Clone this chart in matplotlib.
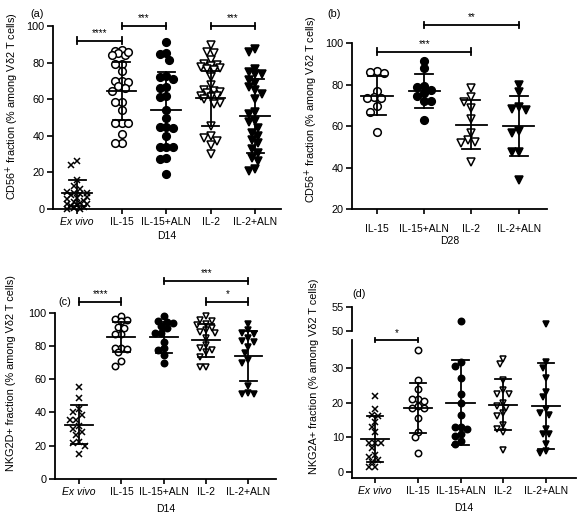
import matplotlib
matplotlib.use("Agg")
import matplotlib.pyplot as plt

plt.rcParams["font.family"] = ["Liberation Sans", "DejaVu Sans"]
plt.rcParams["font.size"] = 7.5

W, H = 578, 521

# group names
groups_d14 = ["Ex vivo", "IL-15", "IL-15+ALN", "IL-2", "IL-2+ALN"]
groups_d28 = ["IL-15", "IL-15+ALN", "IL-2", "IL-2+ALN"]

# (a) CD56+ fraction, D14
a_exvivo = [26, 24, 16, 12.5, 11, 9.5, 9, 8.5, 8, 7.5, 6.5, 6, 5.5, 4.5, 4, 3.5, 3, 2.5, 2, 1.5, 1, 0.5, 0, 0]
a_il15 = [87, 86.5, 85.5, 84, 84, 86, 79.5, 79.5, 75.5, 70, 70, 69.5, 67, 66, 64.5, 58.5, 58.5, 54, 47, 47, 47, 41, 36, 36]
a_il15aln = [91, 85, 84.5, 81.5, 72.5, 72, 71, 66.5, 66, 61.5, 61, 54, 49.5, 45, 45, 44.5, 40, 34, 34, 34, 28, 27.5, 19]
a_il2 = [89.5, 86, 85, 81.5, 79, 78.5, 78, 77.5, 77, 76.5, 76, 72, 68, 65, 64.5, 64, 63.5, 62, 61.5, 61, 60, 58, 57.5, 45.5, 40, 39, 37, 35, 30]
a_il2aln = [87.5, 86, 76.5, 75, 74, 73.5, 70.5, 69, 66.5, 65, 63, 60, 53, 52, 48, 47.5, 44.5, 41.5, 40, 37.5, 36, 33, 30.5, 28, 26, 22, 21]
a_mean = [8.9, 64.6, 54.3, 60.5, 51.0]
a_sd = [7.0, 15.8, 20.8, 15.0, 20.3]

# (b) CD56+ fraction, D28
b_il15 = [86.8, 85.8, 86.3, 77, 74, 73.5, 73.5, 69.5, 67, 57]
b_il15aln = [91.5, 88, 79.5, 79, 77.5, 76, 74.5, 72, 72, 63]
b_il2 = [78.3, 74.2, 71.5, 68.6, 63.5, 56.6, 53.3, 52.2, 51.7, 42.5]
b_il2aln = [80, 76.6, 69.4, 68.3, 67.8, 57.7, 56.5, 47.7, 47.7, 34]
b_mean = [74.7, 77.2, 60.7, 60.2]
b_sd = [9.4, 8.2, 11.8, 14.5]

# (c) NKG2D+ fraction, D14
c_exvivo = [55.5, 49, 42, 40.5, 38.5, 35.5, 35.5, 32, 30, 28.5, 26.5, 22.5, 21.5, 20, 15]
c_il15 = [98, 96.5, 95.5, 95, 91.5, 91, 87, 87, 79, 79, 78, 76.5, 71, 68]
c_il15aln = [98, 95, 94.5, 94, 92, 90.5, 88, 88, 82.5, 78.5, 77.5, 74.5, 69.5]
c_il2 = [98, 95.5, 95, 93.5, 92.5, 90.5, 89.5, 88.5, 88, 84.5, 80.5, 78.5, 77.5, 76.5, 73.5, 67.5, 67.5]
c_il2aln = [93.5, 89.5, 88, 87, 85, 83, 82.5, 79.5, 76, 71.5, 70, 56, 51.5, 51, 51]
c_mean = [32.5, 85.2, 85.2, 83.3, 73.9]
c_sd = [11.7, 9.0, 9.3, 10.0, 14.8]

# (d) NKG2A+ fraction, D14
d_exvivo = [22, 18, 16.5, 16, 14.5, 13, 11.5, 8.5, 8.5, 8.5, 7, 5, 4.5, 3.5, 3, 1.5, 1.5]
d_il15 = [35, 26.5, 24, 21, 21, 20.5, 19, 18.5, 18.5, 15.5, 11.5, 10, 5.5]
d_il15aln = [52, 31.5, 30.5, 27, 22.5, 20, 16.5, 13, 13, 12.5, 11, 10.5, 9, 8]
d_il2 = [32.5, 31, 26.5, 23.5, 22.5, 22.5, 20, 19, 18.5, 17, 16, 13.5, 12.5, 11.5, 6.5]
d_il2aln = [51.5, 31.5, 30, 27, 23, 21.5, 18, 17, 16.5, 12.5, 11, 11, 8, 6, 5.5]
d_mean = [9.5, 18.5, 20.0, 19.3, 19.1]
d_sd = [6.6, 7.2, 12.2, 7.3, 12.3]

# significance brackets: (from, to, height, stars)
a_sig = [(0, 1, 92, "****"), (1, 2, 100, "***"), (3, 4, 100, "***")]
b_sig = [(0, 2, 96, "***"), (1, 3, 109, "**")]
c_sig = [(0, 1, 106.6, "****"), (2, 4, 119, "***"), (3, 4, 106.6, "*")]
d_sig = [(0, 1, 37.9, "*")]

styles = {
    "Ex vivo": dict(marker="x", mfc="black", ms_scale=0.8),
    "IL-15": dict(marker="o", mfc="white", ms_scale=1.0),
    "IL-15+ALN": dict(marker="o", mfc="black", ms_scale=1.0),
    "IL-2": dict(marker="v", mfc="white", ms_scale=0.92),
    "IL-2+ALN": dict(marker="v", mfc="black", ms_scale=0.92),
}

fig = plt.figure(figsize=(W / 100, H / 100), dpi=100)


def px_axes(left, right, bottom, top):
    return fig.add_axes([left / W, 1 - bottom / H, (right - left) / W, (bottom - top) / H])


def swarm_x(ax, x0, vals, diam, max_off):
    # spread points sideways (in pixels), kept within +-max_off of the group centre
    p0 = ax.transData.transform((0, 0))
    p1 = ax.transData.transform((1, 1))
    sx, sy = p1[0] - p0[0], p1[1] - p0[1]
    step = diam / 2
    cands = [0.0]
    k = 1
    while k * step <= max_off + 1e-6:
        cands += [-k * step, k * step]
        k += 1
    order = sorted(range(len(vals)), key=lambda i: -vals[i])
    placed = []
    xs = [0] * len(vals)
    for i in order:
        y = vals[i] * sy
        best, best_d = 0.0, -1
        for off in cands:
            dmin = min([((off - ox) ** 2 + (y - oy) ** 2) ** 0.5 for ox, oy in placed] + [1e9])
            if dmin >= diam:
                best = off
                break
            if dmin > best_d:
                best, best_d = off, dmin
        placed.append((best, y))
        xs[i] = x0 + best / sx
    return xs


def dots(ax, x0, vals, name, ms, diam, max_off):
    st = styles[name]
    xs = swarm_x(ax, x0, vals, diam, max_off)
    ax.plot(xs, vals, ls="none", marker=st["marker"], ms=ms * st["ms_scale"],
            mfc=st["mfc"], mec="black", mew=1.1, clip_on=False, zorder=3)


def mean_sd(ax, x0, m, s, lw=1.3):
    ax.plot([x0 - 0.33, x0 + 0.33], [m, m], color="black", lw=lw, zorder=4, clip_on=False)
    ax.plot([x0, x0], [m - s, m + s], color="black", lw=lw, zorder=4, clip_on=False)
    for yy in (m - s, m + s):
        ax.plot([x0 - 0.19, x0 + 0.19], [yy, yy], color="black", lw=lw, zorder=4, clip_on=False)


def brackets(ax, sig, cap, gap):
    for g0, g1, h, stars in sig:
        ax.plot([g0, g1], [h, h], color="black", lw=1.3, clip_on=False)
        for g in (g0, g1):
            ax.plot([g, g], [h - cap, h + cap], color="black", lw=1.3, clip_on=False)
        ax.text((g0 + g1) / 2, h + gap, stars, ha="center", va="bottom", fontsize=7)


def style_axes(ax, labels, italic_first):
    for s in ("top", "right"):
        ax.spines[s].set_visible(False)
    for s in ("left", "bottom"):
        ax.spines[s].set_linewidth(1.3)
    ax.tick_params(axis="both", width=1.2, length=4, pad=2, labelsize=7.8)
    ax.tick_params(axis="x", length=3.5, labelsize=7.5)
    ax.set_xticks(range(len(labels)))
    ax.set_xticklabels(labels)
    if italic_first:
        ax.get_xticklabels()[0].set_fontstyle("italic")


def panel(ax, data, means, sds, names, ms, diam, max_off):
    for i, (vals, name) in enumerate(zip(data, names)):
        dots(ax, i, vals, name, ms, diam, max_off)
        mean_sd(ax, i, means[i], sds[i])


# ---- (a)
ax_a = px_axes(53, 281, 209, 26)
ax_a.set_xlim(-0.54, 4.58)
ax_a.set_ylim(0, 100)
ax_a.set_yticks([0, 20, 40, 60, 80, 100])
style_axes(ax_a, groups_d14, True)
panel(ax_a, [a_exvivo, a_il15, a_il15aln, a_il2, a_il2aln], a_mean, a_sd, groups_d14, 5.5, 6.5, 12)
brackets(ax_a, a_sig, 1.8, 1.5)
ax_a.set_xlabel("D14", labelpad=3)

# ---- (b)
ax_b = px_axes(352, 547, 209, 43.3)
ax_b.set_xlim(-0.53, 3.6)
ax_b.set_ylim(20, 100)
ax_b.set_yticks([20, 40, 60, 80, 100])
style_axes(ax_b, groups_d28, False)
ax_b.tick_params(axis="x", pad=7)
panel(ax_b, [b_il15, b_il15aln, b_il2, b_il2aln], b_mean, b_sd, groups_d28, 5.5, 7, 11)
brackets(ax_b, b_sig, 1.5, 1.3)
ax_b.set_xlabel("D28", labelpad=2)

# ---- (c)
ax_c = px_axes(55, 276, 479, 312.7)
ax_c.set_xlim(-0.57, 4.65)
ax_c.set_ylim(0, 100)
ax_c.set_yticks([0, 20, 40, 60, 80, 100])
style_axes(ax_c, groups_d14, True)
panel(ax_c, [c_exvivo, c_il15, c_il15aln, c_il2, c_il2aln], c_mean, c_sd, groups_d14, 4.6, 6, 10)
brackets(ax_c, c_sig, 2.0, 1.6)
ax_c.set_xlabel("D14", labelpad=5)

# ---- (d) broken y axis
ax_d = px_axes(352.3, 576, 478.3, 340)
ax_d.set_xlim(-0.53, 4.7)
ax_d.set_ylim(-1.7, 37.9)
ax_d.set_yticks([0, 10, 20, 30])
style_axes(ax_d, groups_d14, True)
ax_d.spines["left"].set_bounds(-1.7, 37.9)

ax_d2 = px_axes(352.3, 576, 331, 306.7)
ax_d2.set_xlim(-0.53, 4.7)
ax_d2.set_ylim(50, 55)
ax_d2.set_yticks([50, 55])
for s in ("top", "right", "bottom"):
    ax_d2.spines[s].set_visible(False)
ax_d2.spines["left"].set_linewidth(1.3)
ax_d2.tick_params(axis="y", width=1.2, length=4, pad=2, labelsize=7.8)
ax_d2.set_xticks([])
ax_d2.patch.set_visible(False)

d_data = [d_exvivo, d_il15, d_il15aln, d_il2, d_il2aln]
for i, (vals, name) in enumerate(zip(d_data, groups_d14)):
    low = [v for v in vals if v < 45]
    high = [v for v in vals if v >= 45]
    dots(ax_d, i, low, name, 4.6, 6, 10)
    if high:
        dots(ax_d2, i, high, name, 4.6, 6, 10)
    mean_sd(ax_d, i, d_mean[i], d_sd[i])
brackets(ax_d, d_sig, 0.7, 0.6)
ax_d.set_xlabel("D14", labelpad=5)

# y labels and panel letters
ylab56 = "CD56$^{+}$ fraction (% among V\u03b42 T cells)"
fig.text(12 / W, 1 - 106 / H, ylab56, rotation=90, ha="center", va="center", fontsize=7.8)
fig.text(311 / W, 1 - 109 / H, ylab56, rotation=90, ha="center", va="center", fontsize=7.8)
fig.text(11 / W, 1 - 373 / H, "NKG2D+ fraction (% among V\u03b42 T cells)", rotation=90,
         ha="center", va="center", fontsize=7.8)
fig.text(314 / W, 1 - 376 / H, "NKG2A+ fraction (% among V\u03b42 T cells)", rotation=90,
         ha="center", va="center", fontsize=7.8)

for lab, x, y in [("(a)", 37, 14), ("(b)", 334, 14), ("(c)", 65, 302), ("(d)", 359, 294)]:
    fig.text(x / W, 1 - y / H, lab, ha="center", va="center", fontsize=7.8)

fig.savefig("out.png", dpi=100)
